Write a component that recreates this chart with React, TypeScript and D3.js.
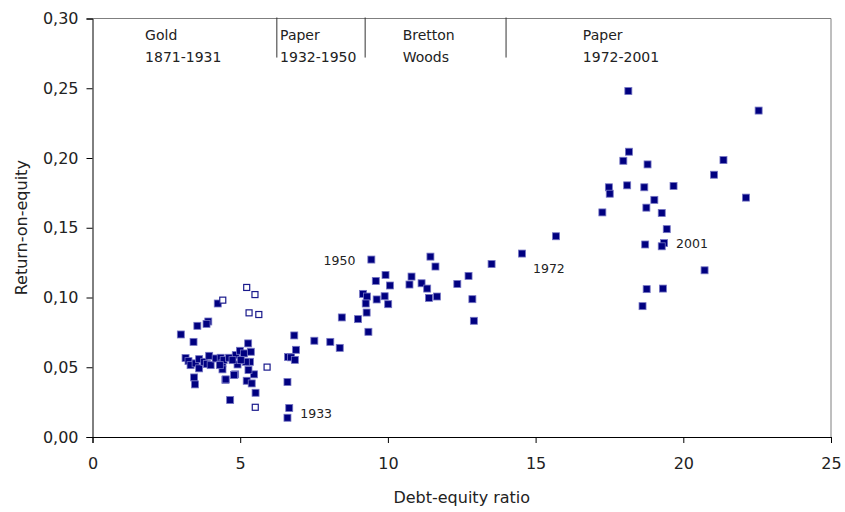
import { useEffect, useRef } from "react";
import * as d3 from "d3";

// debt-equity ratio / return-on-equity, one entry per year
const filledDebt = [
  // paper 1972-2001
  18.14, 22.55, 18.16, 17.97, 18.79, 21.36, 21.04, 17.48, 17.51, 18.1, 18.68,
  19.67, 19.02, 18.75, 19.27, 17.26, 22.12, 19.44, 18.71, 19.35, 19.27, 20.72,
  18.76, 19.31, 18.62, 15.69, 14.54,
  // bretton woods + paper 1932-1950
  9.44, 11.44, 11.61, 13.51, 9.92, 9.59, 10.07, 10.8, 10.73, 11.14, 11.33,
  11.39, 11.66, 12.35, 12.73, 12.86, 12.91, 9.16, 9.29, 9.25, 9.62, 9.89, 10.01,
  9.28, 8.44, 8.99, 9.34, 6.83, 7.51, 8.05, 8.37, 6.89, 6.62, 6.72, 6.85, 6.6,
  6.66, 6.6,
  // gold 1871-1931
  4.24, 3.92, 3.86, 3.55, 2.99, 3.42, 5.27, 4.66, 3.44, 3.47, 4.5, 4.83, 5.22,
  5.39, 5.52, 5.47, 5.28, 3.15, 3.25, 3.32, 3.49, 3.61, 3.61, 3.78, 3.87, 3.95,
  4.0, 4.17, 4.34, 4.4, 4.44, 4.62, 4.85, 4.99, 5.13, 5.36, 4.91, 4.79, 4.51,
  4.4, 4.31, 5.33, 5.19, 5.02, 4.74,
];
const filledRoe = [
  0.248, 0.234, 0.2045, 0.198, 0.1954, 0.1985, 0.188, 0.179, 0.1744, 0.1804,
  0.179, 0.18, 0.17, 0.1644, 0.1606, 0.161, 0.1716, 0.149, 0.138, 0.139, 0.1367,
  0.1195, 0.106, 0.1064, 0.0938, 0.1439, 0.1315,
  0.1272, 0.1293, 0.1222, 0.124, 0.1162, 0.1119, 0.1086, 0.115, 0.1093, 0.1102,
  0.1064, 0.0997, 0.1007, 0.1097, 0.1155, 0.0988, 0.0833, 0.1026, 0.1007,
  0.0957, 0.0986, 0.1009, 0.0952, 0.0892, 0.0857, 0.0845, 0.0754, 0.0728,
  0.069, 0.0682, 0.0639, 0.0625, 0.0573, 0.0571, 0.0553, 0.0394, 0.0208, 0.0138,
  0.0957, 0.0828, 0.0811, 0.0797, 0.0735, 0.0682, 0.0671, 0.0265, 0.0427,
  0.0377, 0.041, 0.0449, 0.0403, 0.0384, 0.0317, 0.0449, 0.048, 0.0566, 0.0544,
  0.0515, 0.0528, 0.0558, 0.0492, 0.0539, 0.0523, 0.0582, 0.0515, 0.0563,
  0.0568, 0.0528, 0.0551, 0.0568, 0.0587, 0.0618, 0.0599, 0.0611, 0.052,
  0.0444, 0.0413, 0.0485, 0.0515, 0.0539, 0.0539, 0.0551, 0.0551,
];

// open markers
const hollowDebt = [5.22, 5.5, 4.41, 5.3, 5.63, 5.91, 5.51];
const hollowRoe = [0.1072, 0.1021, 0.0981, 0.089, 0.0878, 0.0501, 0.0213];

// year labels: [year, debt, roe]
const yearLabels: [string, number, number][] = [
  ["1950", 9.44, 0.1272],
  ["1933", 6.66, 0.0208],
  ["1972", 14.54, 0.1315],
  ["2001", 19.35, 0.139],
];

// regime boundaries and header labels
const periodBreaks = [6.24, 9.23, 14.0];
const periodNames = [
  ["Gold", "1871-1931"],
  ["Paper", "1932-1950"],
  ["Bretton", "Woods"],
  ["Paper", "1972-2001"],
];
const periodLabelAt = [1.78, 6.35, 10.5, 16.6];

const xTicks = [0, 5, 10, 15, 20, 25];
const yTicks = [0, 0.05, 0.1, 0.15, 0.2, 0.25, 0.3];

const W = 845;
const H = 512;
const FONT = "'DejaVu Sans', sans-serif";

function drawChart(el: SVGSVGElement) {
  const svg = d3.select(el);
  svg.selectAll("*").remove();

  const x = d3.scaleLinear().domain([0, 25]).range([92.5, 831]);
  const y = d3.scaleLinear().domain([0, 0.3]).range([437, 18.5]);
  const fmt = (v: number) => d3.format(".2f")(v).replace(".", ",");

  // top/right frame
  svg
    .append("path")
    .attr("d", `M${x(0)},${y(0.3)}H${x(25)}V${y(0)}`)
    .attr("fill", "none")
    .attr("stroke", "#7f7f7f")
    .attr("stroke-width", 1);

  const xAxis = svg
    .append("g")
    .attr("transform", `translate(0,${y(0)})`)
    .call(d3.axisBottom(x).tickValues(xTicks).tickSize(6).tickPadding(15));
  const yAxis = svg
    .append("g")
    .attr("transform", `translate(${x(0)},0)`)
    .call(d3.axisLeft(y).tickValues(yTicks).tickSize(6).tickPadding(8).tickFormat((d) => fmt(+d)));

  [xAxis, yAxis].forEach((g) => {
    g.select(".domain").attr("stroke", "#000");
    g.selectAll(".tick line").attr("stroke", "#000");
    g.selectAll("text")
      .attr("font-family", FONT)
      .attr("font-size", 16)
      .attr("fill", "#222");
  });

  // regime separators
  svg
    .append("g")
    .selectAll("line")
    .data(periodBreaks)
    .join("line")
    .attr("x1", (d) => x(d))
    .attr("x2", (d) => x(d))
    .attr("y1", y(0.3) - 1)
    .attr("y2", y(0.272))
    .attr("stroke", "#333")
    .attr("stroke-width", 1);

  const heads = svg
    .append("g")
    .attr("font-family", FONT)
    .attr("font-size", 14)
    .attr("fill", "#222")
    .selectAll("text")
    .data(periodNames)
    .join("text")
    .attr("x", (_, i) => x(periodLabelAt[i]));
  heads
    .selectAll("tspan")
    .data((d) => d)
    .join("tspan")
    .attr("x", function () {
      return (this.parentNode as SVGTextElement).getAttribute("x");
    })
    .attr("y", (_, i) => 40 + i * 22)
    .text((d) => d);

  // filled markers
  const s = 7;
  svg
    .append("g")
    .selectAll("rect")
    .data(filledDebt.map((d, i) => [d, filledRoe[i]]))
    .join("rect")
    .attr("x", (d) => x(d[0]) - s / 2)
    .attr("y", (d) => y(d[1]) - s / 2)
    .attr("width", s)
    .attr("height", s)
    .attr("fill", "#000080")
    .attr("stroke", "#7676c4")
    .attr("stroke-width", 0.8);

  // open markers
  svg
    .append("g")
    .selectAll("rect")
    .data(hollowDebt.map((d, i) => [d, hollowRoe[i]]))
    .join("rect")
    .attr("x", (d) => x(d[0]) - 3)
    .attr("y", (d) => y(d[1]) - 3)
    .attr("width", 6)
    .attr("height", 6)
    .attr("fill", "#fff")
    .attr("stroke", "#1a1a8c")
    .attr("stroke-width", 1.2);

  // year annotations
  const offsets: Record<string, [number, number, string]> = {
    "1950": [-16, 5, "end"],
    "1933": [11, 10, "start"],
    "1972": [11, 19, "start"],
    "2001": [12, 5, "start"],
  };
  svg
    .append("g")
    .attr("font-family", FONT)
    .attr("font-size", 12.5)
    .attr("fill", "#222")
    .selectAll("text")
    .data(yearLabels)
    .join("text")
    .attr("x", (d) => x(d[1]) + offsets[d[0]][0])
    .attr("y", (d) => y(d[2]) + offsets[d[0]][1])
    .attr("text-anchor", (d) => offsets[d[0]][2])
    .text((d) => d[0]);

  // axis titles
  svg
    .append("text")
    .attr("x", (x(0) + x(25)) / 2)
    .attr("y", 503)
    .attr("text-anchor", "middle")
    .attr("font-family", FONT)
    .attr("font-size", 16)
    .attr("fill", "#222")
    .text("Debt-equity ratio");
  svg
    .append("text")
    .attr("transform", `translate(27,${(y(0) + y(0.3)) / 2}) rotate(-90)`)
    .attr("text-anchor", "middle")
    .attr("font-family", FONT)
    .attr("font-size", 16)
    .attr("fill", "#222")
    .text("Return-on-equity");
}

export default function App() {
  const ref = useRef<SVGSVGElement | null>(null);

  useEffect(() => {
    if (ref.current) drawChart(ref.current);
  }, []);

  return (
    <svg
      ref={ref}
      width={W}
      height={H}
      style={{ position: "absolute", left: 0, top: 0, background: "#fff" }}
    />
  );
}
